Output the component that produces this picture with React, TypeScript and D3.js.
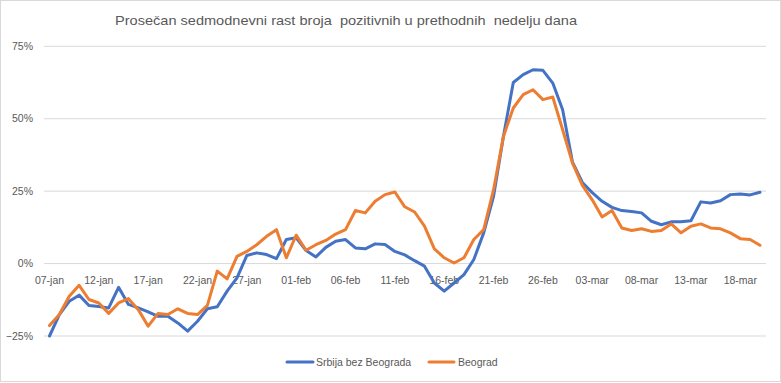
import React from "react";
import * as d3 from "d3";

const W = 781;
const H = 383;

const title = "Prosečan sedmodnevni rast broja  pozitivnih u prethodnih  nedelju dana";

// daily categories, 07-jan .. 20-mar (73 days)
const startDate = new Date(2021, 0, 7);
const endDate = new Date(2021, 2, 21);
const categories: Date[] = d3.timeDay.range(startDate, endDate);

const xTickLabels = [
  "07-jan", "12-jan", "17-jan", "22-jan", "27-jan", "01-feb", "06-feb", "11-feb",
  "16-feb", "21-feb", "26-feb", "03-mar", "08-mar", "13-mar", "18-mar",
];
const xTickIndex = [0, 5, 10, 15, 20, 25, 30, 35, 40, 45, 50, 55, 60, 65, 70];

const yTicks = [-0.25, 0, 0.25, 0.5, 0.75];

const seriesNames = ["Srbija bez Beograda", "Beograd"];

const srbijaBezBeograda = [
  -25, -17.6, -13, -10.9, -14.5, -14.8, -15.3, -8.2, -14.1, -15.3,
  -16.7, -18.2, -18.2, -20.5, -23.3, -19.9, -15.6, -14.9, -9.5, -4.9,
  2.8, 3.7, 3.1, 1.7, 8.3, 8.9, 4.5, 2.3, 5.6, 7.7,
  8.3, 5.4, 5.1, 6.8, 6.6, 4.2, 3.0, 1.0, -0.9, -6.7,
  -9.5, -6.7, -3.8, 1.4, 10.6, 23.2, 43.9, 62.5, 65.2, 66.9,
  66.7, 62.3, 53.1, 35, 28, 24.5, 21.5, 19.4, 18.3, 18,
  17.5, 14.6, 13.4, 14.4, 14.4, 14.8, 21.3, 20.9, 21.7, 23.8,
  24, 23.7, 24.6,
];

const beograd = [
  -21.4, -17.6, -11.3, -7.5, -12.4, -13.6, -17.2, -13.6, -12.1, -15.9,
  -21.6, -17.2, -17.6, -15.6, -17.2, -17.6, -14.4, -2.6, -5.3, 2.5,
  4.2, 6.5, 9.4, 11.7, 2, 9.8, 4.6, 6.5, 8, 10.2,
  11.7, 18.3, 17.5, 21.5, 23.8, 24.7, 19.6, 17.8, 12.9, 5.1,
  2, 0.2, 2, 8.3, 11.7, 25.5, 43.9, 53.7, 58.3, 60,
  56.6, 57.5, 46.2, 34.7, 27, 22, 16.1, 18.3, 12.3, 11.4,
  12, 11.1, 11.4, 13.7, 10.6, 12.9, 13.7, 12.3, 12, 10.6,
  8.6, 8.3, 6.3,
];

const colors = ["#4472C4", "#ED7D31"];
const textColor = "#595959";
const gridColor = "#d9d9d9";
const font = "'Liberation Sans', Arial, sans-serif";

export default function App() {
  const x = d3.scaleLinear().domain([0, categories.length - 1]).range([49.5, 760]);
  const y = d3.scaleLinear().domain([-0.25, 0.75]).range([336, 46.3]);

  const line = d3
    .line<number>()
    .x((_, i) => x(i))
    .y((d) => y(d / 100));

  const series = [srbijaBezBeograda, beograd];

  return (
    <svg
      width={W}
      height={H}
      style={{ position: "absolute", left: 0, top: 0, background: "#fff" }}
    >
      <rect x={0.5} y={0.5} width={W - 1} height={H - 2} fill="#fff" stroke={gridColor} />
      <text
        x={115}
        y={25}
        fontFamily={font}
        fontSize={13.5}
        fill={textColor}
        textLength={462}
        lengthAdjust="spacingAndGlyphs"
        style={{ whiteSpace: "pre" }}
      >
        {title}
      </text>
      {yTicks.map((t) => (
        <g key={t}>
          <line x1={44} x2={766} y1={y(t)} y2={y(t)} stroke={gridColor} strokeWidth={1} />
          <text
            x={33}
            y={y(t)}
            dy="0.35em"
            textAnchor="end"
            fontFamily={font}
            fontSize={10.5}
            fill={textColor}
          >
            {d3.format(".0%")(t)}
          </text>
        </g>
      ))}
      {xTickIndex.map((idx, k) => (
        <text
          key={idx}
          x={x(idx)}
          y={284}
          textAnchor="middle"
          fontFamily={font}
          fontSize={10.5}
          fill={textColor}
        >
          {xTickLabels[k]}
        </text>
      ))}
      {series.map((s, k) => (
        <path
          key={k}
          d={line(s) || ""}
          fill="none"
          stroke={colors[k]}
          strokeWidth={3}
          strokeLinejoin="round"
          strokeLinecap="round"
        />
      ))}
      {[
        { x0: 287, x1: 313, tx: 316 },
        { x0: 429, x1: 454, tx: 458 },
      ].map((l, k) => (
        <g key={k}>
          <line x1={l.x0} x2={l.x1} y1={362} y2={362} stroke={colors[k]} strokeWidth={3} strokeLinecap="round" />
          <text x={l.tx} y={362} dy="0.35em" fontFamily={font} fontSize={10.5} fill={textColor}>
            {seriesNames[k]}
          </text>
        </g>
      ))}
    </svg>
  );
}
